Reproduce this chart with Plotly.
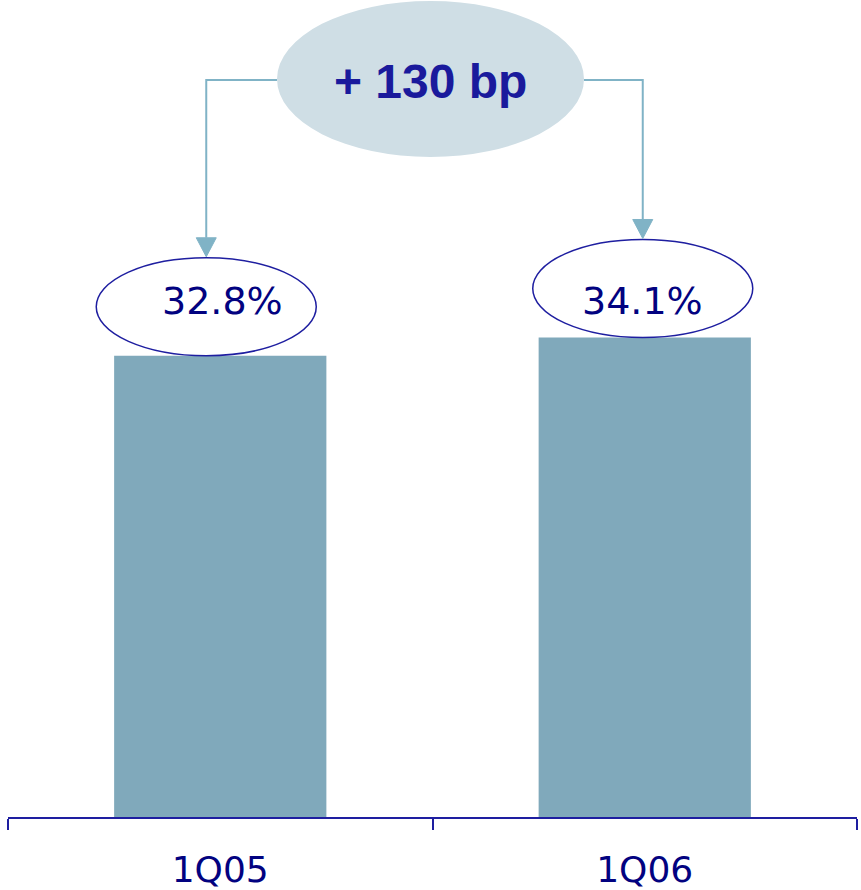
import plotly.graph_objects as go

# Operating margin by quarter
quarters = ["1Q05", "1Q06"]
margin_pct = [32.8, 34.1]
change_label = "+ 130 bp"

# Page and plot geometry (px)
W, H = 861, 890
M_L, M_R, M_T, M_B = 8, 4, 0, 73
PLOT_W = W - M_L - M_R
PLOT_H = H - M_T - M_B
Y_MAX = 58.1
PXPU = PLOT_H / Y_MAX            # pixels per percentage point
CAT_W = PLOT_W / len(quarters)

# Colours
BAR = "#80a9bb"
NAVY = "#020280"
AXIS_BLUE = "#1e1ea0"
CONNECT = "#80b3c6"
BUBBLE = "#cfdee5"
HEAD_BLUE = "#1a1a9c"

# Callout geometry (px)
TOP_CX, TOP_CY, TOP_RX, TOP_RY = 430.5, 79, 153.5, 78   # page coords of the change bubble
LINK_Y = 80                                              # page y of the connector run
LABEL_DX = [-14, -2]                                     # value-bubble offset from bar centre
LABEL_RX, LABEL_H = 110, 98
HEAD_W, HEAD_L = 20, 19
LABEL_TEXT_Y = 300.5                                     # page y of value text
LABEL_TEXT_DX = [2, -2]

fig = go.Figure(
    go.Bar(
        x=quarters,
        y=margin_pct,
        width=0.5,
        marker=dict(color=BAR, line_width=0),
        hoverinfo="skip",
    )
)

shapes = []
annotations = []

# Change bubble at the top
shapes.append(dict(
    type="circle", xref="paper", yref="paper",
    xsizemode="pixel", ysizemode="pixel", xanchor=0, yanchor=1,
    x0=TOP_CX - TOP_RX - M_L, x1=TOP_CX + TOP_RX - M_L,
    y0=-(TOP_CY - TOP_RY), y1=-(TOP_CY + TOP_RY),
    fillcolor=BUBBLE, line_width=0, layer="below",
))
annotations.append(dict(
    text=change_label, xref="paper", yref="paper",
    x=(TOP_CX - M_L) / PLOT_W, y=(PLOT_H - 81) / PLOT_H,
    xanchor="center", yanchor="middle", showarrow=False,
    font=dict(family="Liberation Sans, Arial", size=48, color=HEAD_BLUE, weight="bold"),
))

for i, (q, v) in enumerate(zip(quarters, margin_pct)):
    dx = LABEL_DX[i]
    cat_cx = M_L + (i + 0.5) * CAT_W
    # value bubble sitting on the bar top
    shapes.append(dict(
        type="circle", xref="x", yref="y",
        xsizemode="pixel", ysizemode="pixel", xanchor=q, yanchor=v,
        x0=dx - LABEL_RX, x1=dx + LABEL_RX, y0=0, y1=LABEL_H,
        fillcolor="rgba(0,0,0,0)", line=dict(color=AXIS_BLUE, width=1.5),
    ))
    # connector from the change bubble down to the value bubble
    tip = LABEL_H + 1
    base = tip + HEAD_L
    top_rel = (PLOT_H - LINK_Y) - v * PXPU
    edge_px = TOP_CX - TOP_RX if cat_cx < TOP_CX else TOP_CX + TOP_RX
    edge_rel = edge_px - cat_cx
    shapes.append(dict(
        type="path", xref="x", yref="y",
        xsizemode="pixel", ysizemode="pixel", xanchor=q, yanchor=v,
        path=f"M {dx},{base} L {dx},{top_rel:.2f} L {edge_rel:.2f},{top_rel:.2f}",
        line=dict(color=CONNECT, width=2),
    ))
    shapes.append(dict(
        type="path", xref="x", yref="y",
        xsizemode="pixel", ysizemode="pixel", xanchor=q, yanchor=v,
        path=f"M {dx - HEAD_W / 2},{base} L {dx + HEAD_W / 2},{base} L {dx},{tip} Z",
        fillcolor=CONNECT, line=dict(color=CONNECT, width=1),
    ))
    annotations.append(dict(
        text=f"{v:.1f}%", xref="x", yref="paper",
        x=q, y=(PLOT_H - LABEL_TEXT_Y) / PLOT_H, xshift=LABEL_TEXT_DX[i],
        xanchor="center", yanchor="middle", showarrow=False,
        font=dict(family="DejaVu Sans", size=38, color=NAVY),
    ))

fig.update_layout(
    width=W, height=H,
    margin=dict(l=M_L, r=M_R, t=M_T, b=M_B),
    paper_bgcolor="white", plot_bgcolor="white",
    showlegend=False,
    shapes=shapes,
    annotations=annotations,
    xaxis=dict(
        range=[-0.5, 1.5], showline=True, linecolor=AXIS_BLUE, linewidth=2,
        ticks="outside", tickson="boundaries", ticklen=11, tickwidth=2, tickcolor=AXIS_BLUE,
        tickfont=dict(family="DejaVu Sans", size=36, color=NAVY),
        ticklabelstandoff=20, showgrid=False, zeroline=False, fixedrange=True,
    ),
    yaxis=dict(range=[0, Y_MAX], visible=False, fixedrange=True),
)

fig.write_html("out.html")
